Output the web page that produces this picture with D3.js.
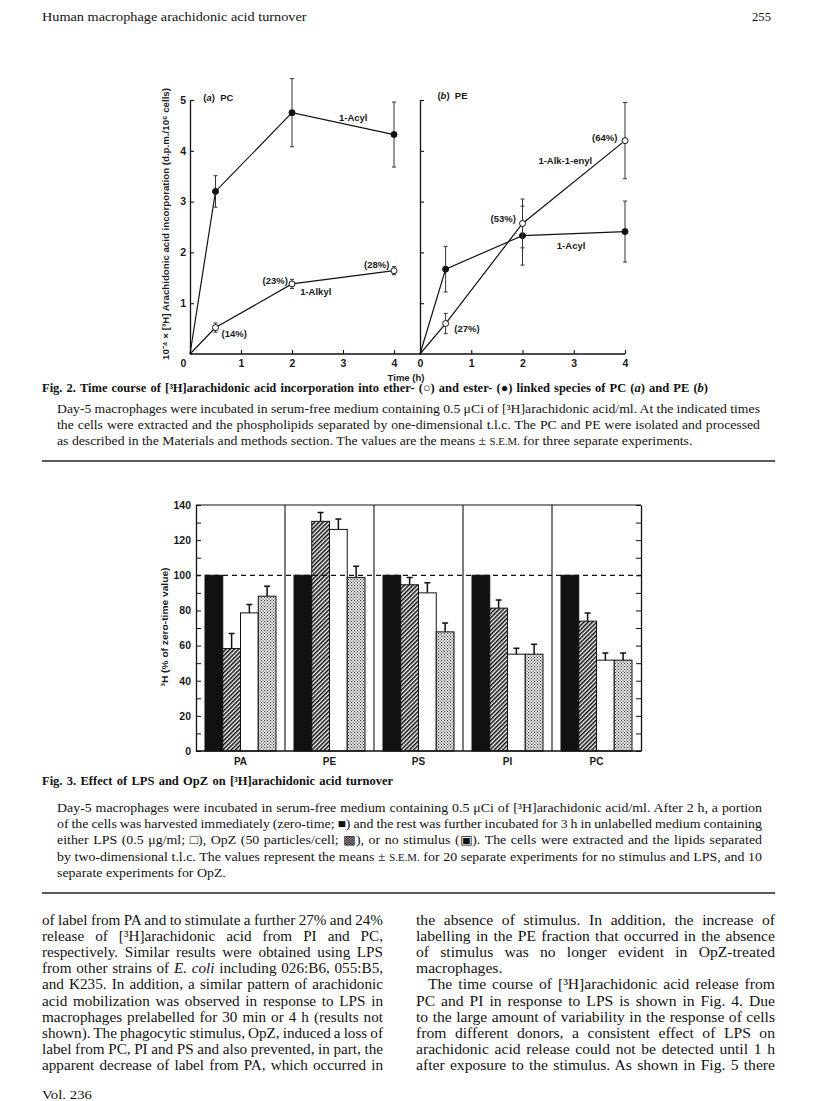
<!DOCTYPE html>
<html>
<head>
<meta charset="utf-8">
<script src="https://cdn.jsdelivr.net/npm/d3@7"></script>
<style>
  body { margin: 0; background: #fff; }
  svg { display: block; }
  .serif { font-family: 'Liberation Serif', 'Times New Roman', serif; fill: #111; }
  .serif-b { font-family: 'Liberation Serif', 'Times New Roman', serif; font-weight: bold; fill: #111; }
  .sans { font-family: 'Liberation Sans', Arial, sans-serif; font-weight: bold; fill: #1a1a1a; }
</style>
</head>
<body>
<svg id="page" width="816" height="1101"></svg>
<script>
'use strict';

// ---- Fig. 2: time course (values in 10^-4 d.p.m./10^6 cells)
const hours = [0, 0.5, 2, 4];
const pcAcyl = [0, 3.2, 4.75, 4.32];
const pcAcylErr = [0, 0.31, 0.67, 0.64];
const pcAlkyl = [0, 0.52, 1.38, 1.64];
const pcAlkylErr = [0, 0.09, 0.09, 0.08];
const peAcyl = [0, 1.67, 2.33, 2.41];
const peAcylErr = [0, 0.45, 0.58, 0.6];
const peAlkenyl = [0, 0.6, 2.57, 4.2];
const peAlkenylErr = [0, 0.2, 0.48, 0.75];
const pcAlkylPct = ['', '(14%)', '(23%)', '(28%)'];
const peAlkenylPct = ['', '(27%)', '(53%)', '(64%)'];
const hourTicks = [0, 1, 2, 3, 4];
const incTicks = [1, 2, 3, 4, 5];

// ---- Fig. 3: % of zero-time value
const lipids = ['PA', 'PE', 'PS', 'PI', 'PC'];
const treatments = ['zero', 'none', 'lps', 'opz'];
const zeroTime = [100, 100, 100, 100, 100];
const noStim = [58.3, 130.7, 94.6, 81.3, 73.9];
const noStimErr = [8.6, 5.1, 4.2, 4.6, 4.6];
const lps = [78.6, 126.1, 90, 55.1, 51.7];
const lpsErr = [4.8, 5.9, 5.7, 3.4, 4.1];
const opz = [88.1, 98.8, 67.8, 55.1, 51.7];
const opzErr = [5.7, 6.4, 5.1, 5.7, 4.1];
const pctTicks = d3.range(0, 141, 10);

// ---- page text
const fig2Caption = [
    'Day-5 macrophages were incubated in serum-free medium containing 0.5 \u03bcCi of [\u00b3H]arachidonic acid/ml. At the indicated times',
    'the cells were extracted and the phospholipids separated by one-dimensional t.l.c. The PC and PE were isolated and processed',
    'as described in the Materials and methods section. The values are the means \u00b1 <sc>s.e.m.</sc> for three separate experiments.'
];
const fig3Caption = [
    'Day-5 macrophages were incubated in serum-free medium containing 0.5 \u03bcCi of [\u00b3H]arachidonic acid/ml. After 2 h, a portion',
    'of the cells was harvested immediately (zero-time; \u25a0) and the rest was further incubated for 3 h in unlabelled medium containing',
    'either LPS (0.5 \u03bcg/ml; \u25a1), OpZ (50 particles/cell; \u25a9), or no stimulus (\u25a3). The cells were extracted and the lipids separated',
    'by two-dimensional t.l.c. The values represent the means \u00b1 <sc>s.e.m.</sc> for 20 separate experiments for no stimulus and LPS, and 10',
    'separate experiments for OpZ.'
];
const leftColumn = [
    'of label from PA and to stimulate a further 27% and 24%',
    'release of [\u00b3H]arachidonic acid from PI and PC,',
    'respectively. Similar results were obtained using LPS',
    'from other strains of <i>E. coli</i> including 026:B6, 055:B5,',
    'and K235. In addition, a similar pattern of arachidonic',
    'acid mobilization was observed in response to LPS in',
    'macrophages prelabelled for 30 min or 4 h (results not',
    'shown). The phagocytic stimulus, OpZ, induced a loss of',
    'label from PC, PI and PS and also prevented, in part, the',
    'apparent decrease of label from PA, which occurred in'
];
const rightColumn = [
    'the absence of stimulus. In addition, the increase of',
    'labelling in the PE fraction that occurred in the absence',
    'of stimulus was no longer evident in OpZ-treated',
    'macrophages.',
    'The time course of [\u00b3H]arachidonic acid release from',
    'PC and PI in response to LPS is shown in Fig. 4. Due',
    'to the large amount of variability in the response of cells',
    'from different donors, a consistent effect of LPS on',
    'arachidonic acid release could not be detected until 1 h',
    'after exposure to the stimulus. As shown in Fig. 5 there'
];

let svg = d3.select('#page');
svg.append('rect').attr('width', 816).attr('height', 1101).attr('fill', '#fff');

let defs = svg.append('defs');
let hatch = defs.append('pattern')
    .attr('id', 'hatch')
    .attr('patternUnits', 'userSpaceOnUse')
    .attr('width', 3).attr('height', 3)
    .attr('patternTransform', 'rotate(45)');
hatch.append('rect').attr('width', 3).attr('height', 3).attr('fill', '#fff');
hatch.append('line')
    .attr('x1', 0.8).attr('y1', 0).attr('x2', 0.8).attr('y2', 3)
    .attr('stroke', '#111').attr('stroke-width', 1.6);

let dots = defs.append('pattern')
    .attr('id', 'dots')
    .attr('patternUnits', 'userSpaceOnUse')
    .attr('width', 3).attr('height', 3);
dots.append('rect').attr('width', 3).attr('height', 3).attr('fill', '#fff');
dots.append('rect').attr('width', 1.2).attr('height', 1.2).attr('fill', '#333');
dots.append('rect').attr('x', 1.5).attr('y', 1.5).attr('width', 1.2).attr('height', 1.2).attr('fill', '#333');

// one line of page text, drawn at the origin of a translated group;
// <i> and <sc> parts become tspans
function richLine(parent, x, y, str, size, cls) {
    let t = parent.append('text')
        .attr('transform', 'translate(' + x + ',' + y + ')')
        .attr('class', cls)
        .style('font-size', size + 'px');
    t.datum({x: x, y: y});
    str.split(/(<i>.*?<\/i>|<sc>.*?<\/sc>)/).forEach(function(part) {
        if (!part) return;
        let m = part.match(/^<(i|sc)>(.*)<\/\1>$/);
        if (!m) {
            t.append('tspan').text(part);
        } else if (m[1] === 'i') {
            t.append('tspan').style('font-style', 'italic').text(m[2]);
        } else {
            t.append('tspan').style('font-size', (size * 0.78) + 'px').text(m[2].toUpperCase());
        }
    });
    return t;
}

// the printed face is wider than Times: widen glyphs by sx, then
// stretch word gaps so the line fills its measure
function justify(t, width, sx, stretch) {
    let p = t.datum();
    t.attr('transform', 'translate(' + p.x + ',' + p.y + ') scale(' + sx + ',1)');
    if (!stretch) return;
    let natural = t.node().getComputedTextLength();
    let gaps = (t.text().match(/ /g) || []).length;
    if (gaps > 0) t.style('word-spacing', ((width / sx - natural) / gaps) + 'px');
}

function textBlock(lines, x, y0, step, size, widths, last) {
    let nodes = lines.map(function(s, i) {
        return richLine(svg, x[i], y0 + i * step, s, size, 'serif');
    });
    let ratios = [];
    nodes.forEach(function(t, i) {
        if (!last[i]) ratios.push(widths[i] / t.node().getComputedTextLength());
    });
    ratios.sort(d3.ascending);
    let sx = Math.max(1, Math.min(d3.quantile(ratios, 0.25), 1.15));
    nodes.forEach(function(t, i) {
        justify(t, widths[i], sx, !last[i]);
    });
}

// ---- running head
let head = richLine(svg, 42, 21, 'Human macrophage arachidonic acid turnover', 13.5, 'serif');
justify(head, 265, 265 / head.node().getComputedTextLength(), false);
let folio = richLine(svg, 752, 21, '255', 13.5, 'serif');
justify(folio, 19, 19 / folio.node().getComputedTextLength(), false);

// ================= Fig. 2 =================
let y2 = d3.scaleLinear().domain([0, 5]).range([354, 100]);
let xa = d3.scaleLinear().domain([0, 4]).range([190, 394]);
let xb = d3.scaleLinear().domain([0, 4]).range([420, 625]);

function drawPanel(x, series, labelY, axisEnd) {
    let g = svg.append('g');

    let xAxis = g.append('g')
        .attr('class', 'sans')
        .attr('transform', 'translate(0,' + y2(0) + ')')
        .call(d3.axisBottom(x).tickValues(hourTicks).tickSize(-4).tickPadding(6)
            .tickSizeOuter(0).tickFormat(d3.format('d')));
    xAxis.select('.domain').remove();
    xAxis.selectAll('text').style('font-size', '10.5px').attr('fill', '#1a1a1a')
        .attr('font-family', null).attr('font-weight', null);
    xAxis.selectAll('line').attr('stroke', '#111').attr('stroke-width', 1.1);
    if (labelY) {
        // the first panel's zero sits left of the corner
        xAxis.selectAll('.tick').filter(function(d) { return d === 0; })
            .select('text').attr('x', -7);
    }
    g.append('line')
        .attr('x1', x(0)).attr('x2', axisEnd)
        .attr('y1', y2(0)).attr('y2', y2(0))
        .attr('stroke', '#111').attr('stroke-width', 1.3);

    let yAxis = g.append('g')
        .attr('class', 'sans')
        .attr('transform', 'translate(' + x(0) + ',0)')
        .call(d3.axisLeft(y2).tickValues(incTicks).tickSize(-4).tickPadding(4).tickSizeOuter(0)
            .tickFormat(labelY ? d3.format('d') : ''));
    yAxis.select('.domain').attr('stroke', '#111').attr('stroke-width', 1.3);
    yAxis.selectAll('line').attr('stroke', '#111').attr('stroke-width', 1.1);
    yAxis.selectAll('text').style('font-size', '10.5px').attr('fill', '#1a1a1a')
        .attr('font-family', null).attr('font-weight', null);

    series.forEach(function(s) {
        let line = d3.line()
            .x(function(d, i) { return x(hours[i]); })
            .y(function(d) { return y2(d); });
        g.append('path')
            .datum(s.values)
            .attr('d', line)
            .attr('fill', 'none')
            .attr('stroke', '#111')
            .attr('stroke-width', 1.2);

        let pts = s.values.map(function(v, i) {
            return {h: hours[i], v: v, e: s.errors[i]};
        }).filter(function(d) { return d.h > 0; });

        g.selectAll(null).data(pts).enter().append('path')
            .attr('d', function(d) {
                let cx = x(d.h), lo = y2(d.v - d.e), hi = y2(d.v + d.e);
                return 'M' + (cx - 2) + ',' + hi + 'H' + (cx + 2) +
                    'M' + cx + ',' + hi + 'V' + lo +
                    'M' + (cx - 2) + ',' + lo + 'H' + (cx + 2);
            })
            .attr('stroke', '#333')
            .attr('stroke-width', 1)
            .attr('fill', 'none');

        g.selectAll(null).data(pts).enter().append('circle')
            .attr('cx', function(d) { return x(d.h); })
            .attr('cy', function(d) { return y2(d.v); })
            .attr('r', 3)
            .attr('fill', s.open ? '#fff' : '#111')
            .attr('stroke', '#111')
            .attr('stroke-width', 1);
    });
    return g;
}

let pa = drawPanel(xa, [
    {values: pcAcyl, errors: pcAcylErr, open: false},
    {values: pcAlkyl, errors: pcAlkylErr, open: true}
], true, xb(0));
let pb = drawPanel(xb, [
    {values: peAcyl, errors: peAcylErr, open: false},
    {values: peAlkenyl, errors: peAlkenylErr, open: true}
], false, xb(4));

function note(g, x, v, txt, anchor) {
    return g.append('text')
        .attr('class', 'sans')
        .attr('x', x).attr('y', y2(v))
        .attr('text-anchor', anchor || 'start')
        .style('font-size', '9.5px')
        .text(txt);
}

function panelTitle(g, x, v, letter, lipid) {
    let t = note(g, x, v, '(');
    t.append('tspan').style('font-style', 'italic').text(letter);
    t.append('tspan').text(')\u00a0\u00a0' + lipid);
}

panelTitle(pa, xa(0.26), 4.99, 'a', 'PC');
note(pa, xa(3.2), 4.59, '1-Acyl', 'middle');
note(pa, xa(2.16), 1.17, '1-Alkyl');
note(pa, xa(0.62), 0.33, pcAlkylPct[1]);
note(pa, xa(1.92), 1.38, pcAlkylPct[2], 'end');
note(pa, xa(3.91), 1.69, pcAlkylPct[3], 'end');

panelTitle(pb, xb(0.34), 5.01, 'b', 'PE');
note(pb, xb(3.85), 4.19, peAlkenylPct[3], 'end');
note(pb, xb(2.31), 3.74, '1-Alk-1-enyl');
note(pb, xb(1.87), 2.6, peAlkenylPct[2], 'end');
note(pb, xb(2.67), 2.06, '1-Acyl');
note(pb, xb(0.67), 0.44, peAlkenylPct[1]);

svg.append('text')
    .attr('class', 'sans')
    .attr('transform', 'translate(169,224) rotate(-90)')
    .attr('text-anchor', 'middle')
    .attr('textLength', 272)
    .attr('lengthAdjust', 'spacingAndGlyphs')
    .style('font-size', '9.5px')
    .text('10\u207b\u2074 \u00d7 [\u00b3H] Arachidonic acid incorporation (d.p.m./10\u2076 cells)');

svg.append('text')
    .attr('class', 'sans')
    .attr('x', 406).attr('y', 381)
    .attr('text-anchor', 'middle')
    .style('font-size', '9.5px')
    .text('Time (h)');

let t2 = richLine(svg, 42, 392,
    'Fig. 2. Time course of [\u00b3H]arachidonic acid incorporation into ether- (\u25cb) and ester- (\u25cf) linked species of PC (<i>a</i>) and PE (<i>b</i>)',
    12.5, 'serif-b');
justify(t2, 666, 1, true);
textBlock(fig2Caption, [57, 57, 57], 413, 16, 12.3, [703, 703, 703], [false, false, true]);
svg.append('line').attr('x1', 42).attr('x2', 775).attr('y1', 461).attr('y2', 461)
    .attr('stroke', '#222').attr('stroke-width', 1.4);

// ================= Fig. 3 =================
let x3 = d3.scaleBand().domain(lipids).range([196, 641]);
let xIn = d3.scaleBand().domain(treatments).range([9, x3.bandwidth() - 9]);
let y3 = d3.scaleLinear().domain([0, 140]).range([751, 505]);

let byTreatment = {
    zero: {values: zeroTime, errors: null, fill: '#111'},
    none: {values: noStim, errors: noStimErr, fill: 'url(#hatch)'},
    lps: {values: lps, errors: lpsErr, fill: '#fff'},
    opz: {values: opz, errors: opzErr, fill: 'url(#dots)'}
};

let g3 = svg.append('g');

let barData = [];
lipids.forEach(function(lip, li) {
    treatments.forEach(function(t) {
        let s = byTreatment[t];
        barData.push({lipid: lip, t: t, v: s.values[li], e: s.errors ? s.errors[li] : 0, fill: s.fill});
    });
});

g3.selectAll('.bar').data(barData).enter().append('rect')
    .attr('class', 'bar')
    .attr('x', function(d) { return x3(d.lipid) + xIn(d.t); })
    .attr('y', function(d) { return y3(d.v); })
    .attr('width', xIn.bandwidth())
    .attr('height', function(d) { return y3(0) - y3(d.v); })
    .attr('fill', function(d) { return d.fill; })
    .attr('stroke', '#111')
    .attr('stroke-width', 1);

g3.selectAll('.err').data(barData.filter(function(d) { return d.e > 0; })).enter().append('path')
    .attr('class', 'err')
    .attr('d', function(d) {
        let cx = x3(d.lipid) + xIn(d.t) + xIn.bandwidth() / 2;
        let top = y3(d.v + d.e);
        return 'M' + cx + ',' + y3(d.v) + 'V' + top + 'M' + (cx - 3) + ',' + top + 'H' + (cx + 3);
    })
    .attr('stroke', '#111')
    .attr('stroke-width', 1.5)
    .attr('fill', 'none');

g3.append('line')
    .attr('x1', x3.range()[0]).attr('x2', x3.range()[1])
    .attr('y1', y3(100)).attr('y2', y3(100))
    .attr('stroke', '#111').attr('stroke-width', 1.3)
    .attr('stroke-dasharray', '5,4');

// group separators and frame
g3.selectAll('.sep').data(lipids.slice(1)).enter().append('line')
    .attr('class', 'sep')
    .attr('x1', function(d) { return x3(d); }).attr('x2', function(d) { return x3(d); })
    .attr('y1', y3(140)).attr('y2', y3(0))
    .attr('stroke', '#111').attr('stroke-width', 1.1);
g3.append('line')
    .attr('x1', x3.range()[0]).attr('x2', x3.range()[1])
    .attr('y1', y3(140)).attr('y2', y3(140))
    .attr('stroke', '#111').attr('stroke-width', 1.2);
g3.append('line')
    .attr('x1', x3.range()[0]).attr('x2', x3.range()[1])
    .attr('y1', y3(0)).attr('y2', y3(0))
    .attr('stroke', '#111').attr('stroke-width', 1.6);

let left3 = g3.append('g')
    .attr('class', 'sans')
    .attr('transform', 'translate(' + x3.range()[0] + ',0)')
    .call(d3.axisLeft(y3).tickValues(pctTicks).tickSize(-5).tickPadding(5).tickSizeOuter(0)
        .tickFormat(function(d) { return d % 20 === 0 ? d : ''; }));
left3.select('.domain').attr('stroke', '#111').attr('stroke-width', 1.3);
left3.selectAll('line').attr('stroke', '#111');
left3.selectAll('text').style('font-size', '10.5px').attr('fill', '#1a1a1a')
    .attr('font-family', null).attr('font-weight', null);

let right3 = g3.append('g')
    .attr('transform', 'translate(' + x3.range()[1] + ',0)')
    .call(d3.axisRight(y3).tickValues(pctTicks).tickSize(-5).tickSizeOuter(0).tickFormat(''));
right3.select('.domain').attr('stroke', '#111').attr('stroke-width', 1.3);
right3.selectAll('line').attr('stroke', '#111');

g3.selectAll('.cat').data(lipids).enter().append('text')
    .attr('class', 'sans cat')
    .attr('x', function(d) { return x3(d) + x3.bandwidth() / 2; })
    .attr('y', y3(0) + 14)
    .attr('text-anchor', 'middle')
    .style('font-size', '10px')
    .text(function(d) { return d; });

svg.append('text')
    .attr('class', 'sans')
    .attr('transform', 'translate(168,627) rotate(-90)')
    .attr('text-anchor', 'middle')
    .attr('textLength', 119)
    .attr('lengthAdjust', 'spacingAndGlyphs')
    .style('font-size', '9.5px')
    .text('\u00b3H (% of zero-time value)');

let t3 = richLine(svg, 42, 785, 'Fig. 3. Effect of LPS and OpZ on [\u00b3H]arachidonic acid turnover', 12.5, 'serif-b');
justify(t3, 351, 1, true);
textBlock(fig3Caption, [57, 57, 57, 57, 57], 812, 16.2, 12.3,
    [705, 705, 705, 705, 705], [false, false, false, false, true]);
svg.append('line').attr('x1', 42).attr('x2', 775).attr('y1', 893).attr('y2', 893)
    .attr('stroke', '#222').attr('stroke-width', 1.4);

// ---- body text, two columns
textBlock(leftColumn, leftColumn.map(function() { return 42; }), 925, 16.1, 13.6,
    leftColumn.map(function() { return 341; }), leftColumn.map(function() { return false; }));
textBlock(rightColumn,
    rightColumn.map(function(s, i) { return i === 4 ? 428 : 416; }), 925, 16.1, 13.6,
    rightColumn.map(function(s, i) { return i === 4 ? 347 : 359; }),
    rightColumn.map(function(s, i) { return i === 3; }));

let vol = richLine(svg, 42, 1099, 'Vol. 236', 13.5, 'serif');
justify(vol, 49, 1.1, false);
</script>
</body>
</html>
